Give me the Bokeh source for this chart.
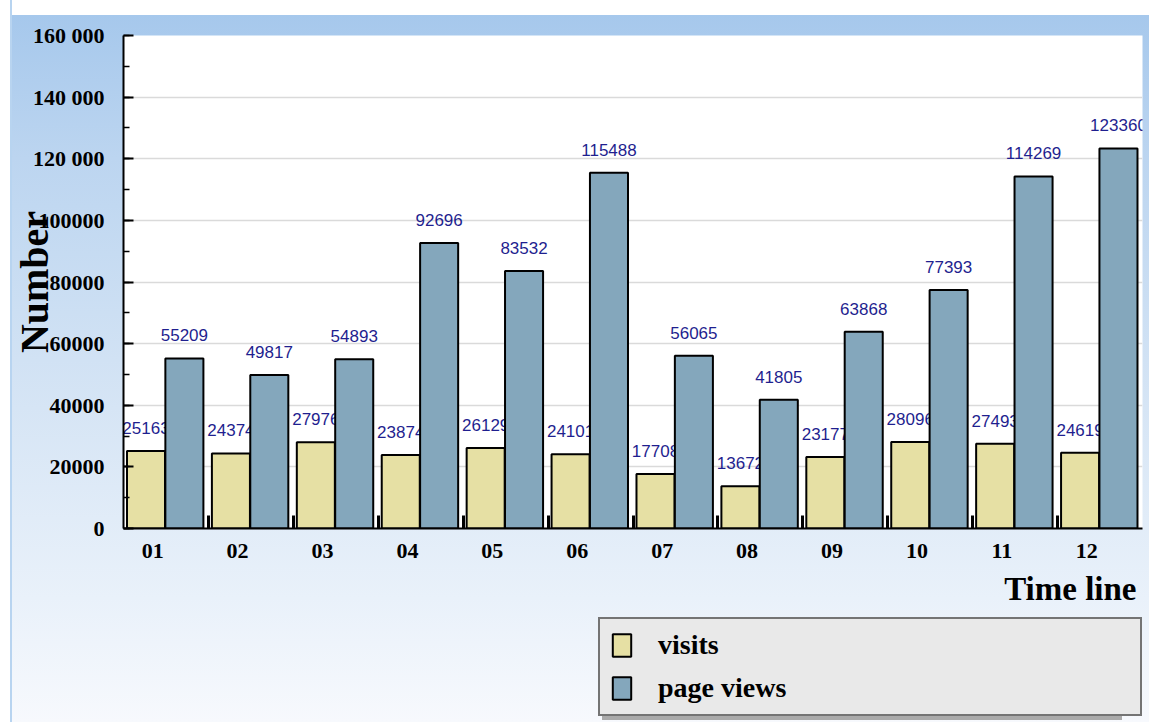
import numpy as np
from bokeh.plotting import figure
from bokeh.layouts import column
from bokeh.models import (ColumnDataSource, Range1d, LinearAxis, FixedTicker,
                          SingleIntervalTicker, Legend, LegendItem, Title, Grid)
from bokeh.transform import dodge
from bokeh.core.properties import value
from bokeh.embed import file_html
from bokeh.resources import INLINE

# ---------------- data ----------------
months = ["01", "02", "03", "04", "05", "06", "07", "08", "09", "10", "11", "12"]
visits = [25163, 24374, 27976, 23874, 26129, 24101, 17708, 13672, 23177, 28096, 27493, 24619]
page_views = [55209, 49817, 54893, 92696, 83532, 115488, 56065, 41805, 63868, 77393, 114269, 123360]
y_tick_labels = {0: "0", 20000: "20000", 40000: "40000", 60000: "60000", 80000: "80000",
                 100000: "100000", 120000: "120 000", 140000: "140 000", 160000: "160 000"}
series_names = ["visits", "page views"]

# ---------------- styles ----------------
VIS_COLOR = "#e6e0a4"
PV_COLOR = "#84a7bc"
VAL_COLOR = "#1f1f8f"
SERIF = "Liberation Serif"
SANS = "Liberation Sans"

n = len(months)
pos = np.arange(n) + 0.5
src = ColumnDataSource(dict(
    pos=pos,
    visits=visits,
    page_views=page_views,
    visits_txt=[str(v) for v in visits],
    pv_txt=[str(v) for v in page_views],
))

# ================= main chart =================
p = figure(width=1149, height=614, output_backend="svg", toolbar_location=None,
           x_range=Range1d(0, n), y_range=Range1d(0, 160000),
           x_axis_type=None, y_axis_type=None,
           min_border_left=123, min_border_right=7, min_border_top=35, min_border_bottom=86)
p.background_fill_color = "white"
p.border_fill_color = None
p.outline_line_color = None

# y axis
yaxis = LinearAxis(ticker=SingleIntervalTicker(interval=20000, num_minor_ticks=2))
yaxis.major_label_overrides = y_tick_labels
yaxis.axis_line_color = "black"
yaxis.axis_line_width = 2
yaxis.major_tick_in = 10
yaxis.major_tick_out = 0
yaxis.major_tick_line_width = 2
yaxis.minor_tick_in = 6
yaxis.minor_tick_out = 0
yaxis.minor_tick_line_width = 1.5
yaxis.major_label_standoff = 19
yaxis.major_label_text_font = SERIF
yaxis.major_label_text_font_style = "bold"
yaxis.major_label_text_font_size = "22px"
yaxis.major_label_text_color = "black"
yaxis.axis_label = "Number"
yaxis.axis_label_text_font = SERIF
yaxis.axis_label_text_font_style = "bold"
yaxis.axis_label_text_font_size = "40px"
yaxis.axis_label_text_color = "black"
yaxis.axis_label_standoff = -27
p.add_layout(yaxis, "left")
p.add_layout(Grid(dimension=1, ticker=yaxis.ticker, grid_line_color="#dadada",
                  grid_line_width=1.5))

# x axis: labels near category centres, small ticks at category boundaries
label_pos = pos - 0.15625
xaxis = LinearAxis(ticker=FixedTicker(ticks=[float(v) for v in label_pos],
                                      minor_ticks=[float(v) for v in np.arange(1, n)]))
xaxis.major_label_overrides = {float(t): m for t, m in zip(label_pos, months)}
xaxis.axis_line_color = "black"
xaxis.axis_line_width = 2
xaxis.major_tick_in = 0
xaxis.major_tick_out = 0
xaxis.minor_tick_in = 13
xaxis.minor_tick_out = 0
xaxis.minor_tick_line_width = 3
xaxis.major_label_standoff = 15
xaxis.major_label_text_font = SERIF
xaxis.major_label_text_font_style = "bold"
xaxis.major_label_text_font_size = "22px"
xaxis.major_label_text_color = "black"
p.add_layout(xaxis, "below")

p.add_layout(Title(text="Time line", align="right", text_font=SERIF, text_font_style="bold",
                   text_font_size="33px", text_color="black", offset=6, standoff=16), "below")

# bars and value labels
BAR_W = 0.448
VIS_DX, PV_DX = -0.235, 0.217
bar_style = dict(width=BAR_W, bottom=0, source=src, line_color="black", line_width=2)
p.vbar(x=dodge("pos", VIS_DX), top="visits", fill_color=VIS_COLOR, **bar_style)
p.text(x=dodge("pos", VIS_DX), y="visits", text="visits_txt", source=src,
       text_align="center", text_baseline="alphabetic", y_offset=-23,
       text_color=VAL_COLOR, text_font=value(SANS), text_font_size="17px")
p.vbar(x=dodge("pos", PV_DX), top="page_views", fill_color=PV_COLOR, **bar_style)
p.text(x=dodge("pos", PV_DX), y="page_views", text="pv_txt", source=src,
       text_align="center", text_baseline="alphabetic", y_offset=-23,
       text_color=VAL_COLOR, text_font=value(SANS), text_font_size="17px")

# ================= legend strip =================
# Hidden copies of the bar renderers: only their legend swatches are drawn.
q = figure(width=1149, height=108, output_backend="svg", toolbar_location=None,
           x_range=Range1d(0, n), y_range=Range1d(0, 160000),
           x_axis_type=None, y_axis_type=None,
           min_border_left=0, min_border_right=0, min_border_top=0, min_border_bottom=0)
q.background_fill_color = None
q.border_fill_color = None
q.outline_line_color = None

sw_vis = q.vbar(x=dodge("pos", VIS_DX), top="visits", fill_color=VIS_COLOR, **bar_style)
sw_pv = q.vbar(x=dodge("pos", PV_DX), top="page_views", fill_color=PV_COLOR, **bar_style)
sw_none = q.vbar(x="pos", top="visits", width=BAR_W, bottom=0, source=src,
                 fill_alpha=0, line_alpha=0)
for r in (sw_vis, sw_pv, sw_none):
    r.visible = False

common = dict(orientation="vertical", glyph_width=23, glyph_height=28, label_standoff=25,
              label_height=30, label_width=472, padding=10, spacing=11, margin=0,
              label_text_font=SERIF, label_text_font_style="bold",
              label_text_font_size="28px", label_text_color="black")
shadow = Legend(items=[LegendItem(label=" ", renderers=[sw_none]),
                       LegendItem(label="  ", renderers=[sw_none])],
                location=(479, 2), background_fill_color="#aaaaaa", background_fill_alpha=1,
                border_line_color=None, **common)
q.add_layout(shadow, "center")
legend = Legend(items=[LegendItem(label=series_names[0], renderers=[sw_vis]),
                       LegendItem(label=series_names[1], renderers=[sw_pv])],
                location=(475, 6), background_fill_color="#e9e9e9", background_fill_alpha=1,
                border_line_color="black", border_line_width=2, **common)
q.add_layout(legend, "center")

layout = column(p, q, spacing=0)
layout.styles = {
    "background": (
        "linear-gradient(to right, #ffffff 0px, #ffffff 10px, #b8d4f0 10px, #b8d4f0 12px, rgba(255,255,255,0) 12px), "
        "linear-gradient(to bottom, #ffffff 0px, #ffffff 15px, #a6c8ec 15px, #bcd5f0 158px, "
        "#d6e5f5 408px, #e9f1fa 598px, #f7f9fd 722px)"
    )
}

open("out.html", "w").write(file_html(layout, INLINE))
